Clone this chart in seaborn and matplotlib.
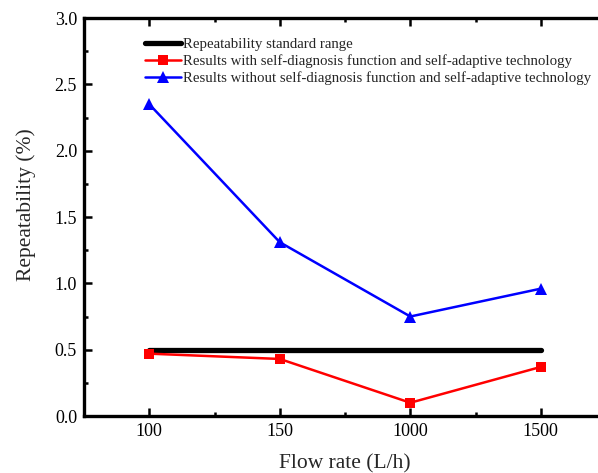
import matplotlib
matplotlib.use("Agg")
import matplotlib.pyplot as plt
import seaborn as sns
import pandas as pd
from matplotlib.ticker import MultipleLocator, FixedLocator, FormatStrFormatter

sns.set_style("ticks")
plt.rcParams['font.family'] = ['Liberation Serif', 'DejaVu Serif']

# Data
flow_rates = ["100", "150", "1000", "1500"]
standard_range = [0.5, 0.5, 0.5, 0.5]
with_self_diag = [0.47, 0.43, 0.10, 0.37]
without_self_diag = [2.35, 1.31, 0.75, 0.96]

labels = [
    "Repeatability standard range",
    "Results with self-diagnosis function and self-adaptive technology",
    "Results without self-diagnosis function and self-adaptive technology",
]

pos = list(range(len(flow_rates)))
df = pd.DataFrame({"pos": pos, "std": standard_range,
                   "with": with_self_diag, "without": without_self_diag})

fig = plt.figure(figsize=(5.98, 4.73), dpi=100)
ax = fig.add_axes([0.1405, 0.1205, 0.873, 0.8414])

sns.lineplot(data=df, x="pos", y="std", ax=ax, color="black", lw=3.8,
             solid_capstyle="round", label=labels[0])
sns.lineplot(data=df, x="pos", y="with", ax=ax, color="#ff0000", lw=1.8,
             marker="s", markersize=7, markeredgewidth=0, label=labels[1])
sns.lineplot(data=df, x="pos", y="without", ax=ax, color="#0000ff", lw=1.8,
             marker="^", markersize=8.5, markeredgewidth=0, label=labels[2])

ax.set_xlim(-0.5, 3.5)
ax.set_ylim(0, 3.0)
ax.xaxis.set_major_locator(FixedLocator(pos))
ax.set_xticklabels(flow_rates)
ax.xaxis.set_minor_locator(MultipleLocator(0.5))
ax.yaxis.set_major_locator(MultipleLocator(0.5))
ax.yaxis.set_minor_locator(MultipleLocator(0.25))
ax.yaxis.set_major_formatter(FormatStrFormatter("%.1f"))

ax.tick_params(which="both", direction="in", top=True, right=True,
               width=1.8, labelsize=13, colors="black", pad=5)
ax.tick_params(which="major", length=5.5)
ax.tick_params(which="minor", length=3)
for s in ax.spines.values():
    s.set_linewidth(2.4)
    s.set_color("black")
    s.set_visible(True)

ax.set_xlabel("Flow rate (L/h)", fontsize=15.5, labelpad=10)
ax.set_ylabel("Repeatability (%)", fontsize=15.5)
ax.yaxis.set_label_coords(-0.092, 0.53)

leg = ax.legend(loc="upper left", bbox_to_anchor=(0.117, 0.950),
                frameon=False, fontsize=10.7, handlelength=2.4,
                handletextpad=0.13, labelspacing=0.22, borderaxespad=0,
                borderpad=0)

fig.savefig("out.png", dpi=100)
